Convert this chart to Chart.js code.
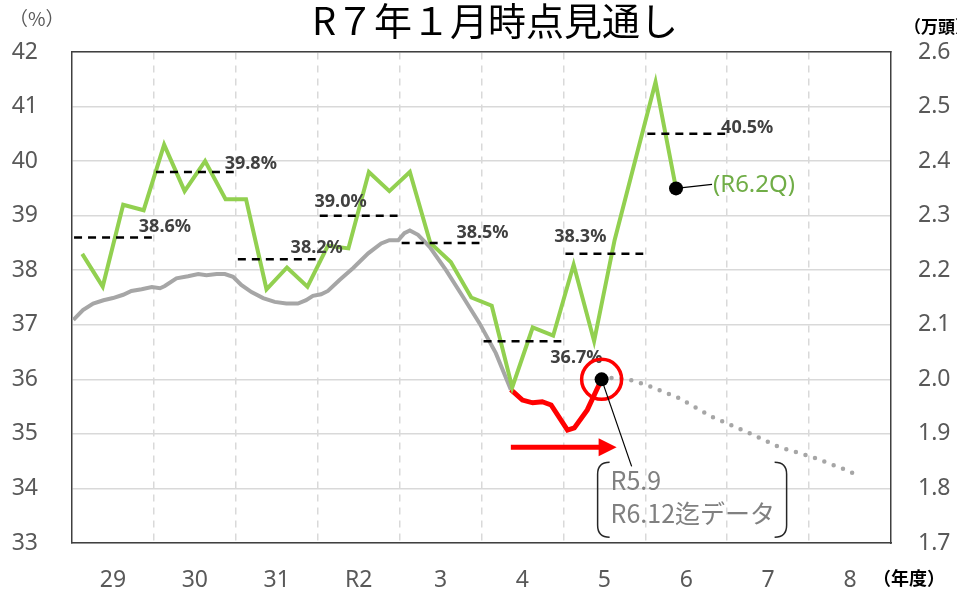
<!DOCTYPE html>
<html lang="ja">
<head>
<meta charset="utf-8">
<script src="https://cdn.jsdelivr.net/npm/chart.js@4.4.1/dist/chart.umd.min.js"></script>
<style>
  html, body { margin: 0; padding: 0; background: #fff; }
</style>
</head>
<body>
<canvas id="herdChart" width="957" height="592"></canvas>
<script>
const years = ['29', '30', '31', 'R2', '3', '4', '5', '6', '7', '8'];

// quarterly share (%), FY29 1Q .. FY6 2Q
const shareQ = [
  38.3, 37.7, 39.2, 39.1,
  40.3, 39.45, 40.0, 39.3,
  39.3, 37.65, 38.05, 37.7,
  38.45, 38.4, 39.8, 39.45,
  39.8, 38.5, 38.15, 37.5,
  37.35, 35.85, 36.95, 36.8,
  38.1, 36.7, 38.55, 40.0,
  41.45, 39.5
];
// fiscal-year averages (%)
const shareAvg = [38.6, 39.8, 38.2, 39.0, 38.5, 36.7, 38.3, 40.5];

// head count (万頭); months counted from the start of FY29
const headMonth = [0.2, 1.6, 3.1, 4.6, 6.0, 7.5, 8.7, 10.2, 11.7, 12.9, 13.6, 15.3, 17.0, 18.5,
  19.7, 21.2, 22.4, 23.6, 24.8, 26.3, 28.0, 29.7, 31.4, 33.1, 34.3, 35.3, 36.5, 37.5, 39.2,
  41.2, 43.4, 45.3, 46.5, 47.8, 48.7, 49.5, 50.7, 52.4, 54.8, 57.3, 59.7, 62.1, 64.3];
const headValue = [2.109, 2.127, 2.139, 2.145, 2.149, 2.155, 2.162, 2.165, 2.169, 2.167, 2.171,
  2.185, 2.189, 2.193, 2.191, 2.193, 2.193, 2.188, 2.173, 2.160, 2.149, 2.142, 2.139, 2.139,
  2.145, 2.153, 2.156, 2.162, 2.182, 2.204, 2.231, 2.249, 2.255, 2.255, 2.268, 2.273, 2.265,
  2.243, 2.200, 2.151, 2.103, 2.048, 1.981];

// R5.9 - R6.12 data
const recentMonth = [64.3, 66.0, 67.5, 68.9, 70.2, 72.6, 73.6, 75.5, 77.0, 77.6];
const recentValue = [1.981, 1.962, 1.957, 1.959, 1.953, 1.907, 1.911, 1.944, 1.984, 2.0];

// outlook
const outlookMonth = [77.6, 79.5, 82.0, 84.1, 88.9, 93.8, 98.8, 103.6, 108.4, 113.4, 115.6];
const outlookValue = [2.0, 2.003, 1.998, 1.99, 1.966, 1.931, 1.904, 1.876, 1.858, 1.834, 1.821];

const numFont = '"Noto Sans", "Noto Sans CJK JP", sans-serif';
const jpFont = '"Noto Sans CJK JP", sans-serif';

const pairs = (xs, ys) => xs.map((m, i) => ({ x: m, y: ys[i] }));

const greenPts = shareQ.map((v, i) => ({ x: 1.5 + 3 * i, y: v }));

// dashed yearly average segments, separated by gaps
const avgPts = [];
shareAvg.forEach((v, i) => {
  avgPts.push({ x: i * 12 + 0.3, y: v }, { x: i * 12 + 11.7, y: v }, { x: i * 12 + 11.8, y: null });
});

// label offsets from the year-end point of each average line
const avgLabelOffset = [[11, -11], [15, -8], [-1, -11], [-59, -14], [1, -10], [13, 17], [-65, -17], [20, -6]];

const lastDot = n => ctx => (ctx.dataIndex === n - 1 ? 7 : 0);

const decor = {
  id: 'decor',
  afterDatasetsDraw(chart) {
    const { ctx, scales: { x, y, y2 } } = chart;
    ctx.save();

    // average labels
    ctx.font = 'bold 18px ' + numFont;
    ctx.fillStyle = '#404040';
    ctx.textAlign = 'center';
    ctx.textBaseline = 'middle';
    shareAvg.forEach((v, i) => {
      const px = x.getPixelForValue(i * 12 + 12) + avgLabelOffset[i][0];
      const py = y.getPixelForValue(v) + avgLabelOffset[i][1];
      ctx.fillText(v.toFixed(1) + '%', px, py);
    });

    // latest quarter callout
    const gx = x.getPixelForValue(greenPts[greenPts.length - 1].x);
    const gy = y.getPixelForValue(greenPts[greenPts.length - 1].y);
    ctx.strokeStyle = '#000';
    ctx.lineWidth = 1.2;
    ctx.beginPath();
    ctx.moveTo(gx, gy);
    ctx.lineTo(gx + 36, gy - 4);
    ctx.stroke();
    ctx.font = '24px ' + numFont;
    ctx.fillStyle = '#70ad47';
    ctx.textAlign = 'left';
    ctx.fillText('(R6.2Q)', gx + 37, gy - 3);

    // circle round the latest head count
    const rx = x.getPixelForValue(recentMonth[recentMonth.length - 1]);
    const ry = y2.getPixelForValue(recentValue[recentValue.length - 1]);
    const sx = x.getPixelForValue(recentMonth[0]);
    ctx.strokeStyle = '#ff0000';
    ctx.lineWidth = 3.5;
    ctx.beginPath();
    ctx.arc(rx, ry, 20, 0, Math.PI * 2);
    ctx.stroke();

    // red arrow
    const ay = ry + 68;
    ctx.lineWidth = 5;
    ctx.beginPath();
    ctx.moveTo(sx, ay);
    ctx.lineTo(rx - 2, ay);
    ctx.stroke();
    ctx.fillStyle = '#ff0000';
    ctx.beginPath();
    ctx.moveTo(rx - 3, ay - 9);
    ctx.lineTo(rx + 15, ay);
    ctx.lineTo(rx - 3, ay + 9);
    ctx.closePath();
    ctx.fill();

    // leader and bracketed note
    ctx.strokeStyle = '#000';
    ctx.lineWidth = 1.2;
    ctx.beginPath();
    ctx.moveTo(rx, ry);
    ctx.lineTo(rx + 30, ry + 87);
    ctx.stroke();

    const bl = rx - 4, bt = ry + 83, br = bl + 189, bb = bt + 75;
    ctx.strokeStyle = '#262626';
    ctx.lineWidth = 1.5;
    ctx.beginPath();
    ctx.moveTo(bl + 12, bt);
    ctx.quadraticCurveTo(bl, bt, bl, bt + 12);
    ctx.lineTo(bl, bb - 12);
    ctx.quadraticCurveTo(bl, bb, bl + 12, bb);
    ctx.moveTo(br - 12, bt);
    ctx.quadraticCurveTo(br, bt, br, bt + 12);
    ctx.lineTo(br, bb - 12);
    ctx.quadraticCurveTo(br, bb, br - 12, bb);
    ctx.stroke();

    ctx.fillStyle = '#808080';
    ctx.font = '25px ' + jpFont;
    ctx.fillText('R5.9', bl + 13, bt + 18);
    ctx.fillText('R6.12迄データ', bl + 13, bt + 51);

    ctx.restore();
  },
  afterDraw(chart) {
    const { ctx } = chart;
    ctx.save();
    ctx.textBaseline = 'middle';

    ctx.fillStyle = '#000';
    ctx.textAlign = 'center';
    ctx.font = '38px ' + jpFont;
    ctx.fillText('R７年１月時点見通し', 495, 21);

    ctx.textAlign = 'left';
    ctx.fillStyle = '#595959';
    ctx.font = '19px ' + jpFont;
    ctx.fillText('（%）', 9, 19);

    ctx.fillStyle = '#000';
    ctx.font = 'bold 17px ' + jpFont;
    ctx.fillText('（万頭）', 904, 27);
    ctx.font = 'bold 18px ' + jpFont;
    ctx.fillText('（年度）', 873, 578);
    ctx.restore();
  }
};

new Chart(document.getElementById('herdChart'), {
  type: 'line',
  data: {
    datasets: [
      {
        data: avgPts,
        yAxisID: 'y',
        borderColor: '#000',
        borderWidth: 2.5,
        borderDash: [8, 6],
        pointRadius: 0,
        spanGaps: false
      },
      {
        data: greenPts,
        yAxisID: 'y',
        borderColor: '#92d050',
        borderWidth: 4,
        pointRadius: lastDot(greenPts.length),
        pointBackgroundColor: '#000',
        pointBorderWidth: 0
      },
      {
        data: pairs(recentMonth, recentValue),
        yAxisID: 'y2',
        borderColor: '#ff0000',
        borderWidth: 5,
        pointRadius: lastDot(recentMonth.length),
        pointBackgroundColor: '#000',
        pointBorderWidth: 0
      },
      {
        data: pairs(headMonth, headValue),
        yAxisID: 'y2',
        borderColor: '#a6a6a6',
        borderWidth: 4,
        pointRadius: 0
      },
      {
        data: pairs(outlookMonth, outlookValue),
        yAxisID: 'y2',
        borderColor: '#a6a6a6',
        borderWidth: 4.5,
        borderDash: [0, 10],
        borderCapStyle: 'round',
        pointRadius: 0
      }
    ]
  },
  options: {
    responsive: false,
    animation: false,
    devicePixelRatio: 1,
    layout: { padding: { top: 52, left: 0, right: 0, bottom: 0 } },
    plugins: { legend: { display: false }, tooltip: { enabled: false } },
    scales: {
      x: {
        type: 'linear',
        position: 'bottom',
        min: 0,
        max: 120,
        afterBuildTicks: s => { s.ticks = years.map((_, i) => ({ value: i * 12 + 6 })); },
        afterFit: s => { s.height = 49; },
        grid: { display: false },
        border: { color: '#404040', width: 1.5 },
        ticks: {
          autoSkip: false,
          maxRotation: 0,
          padding: 16,
          color: '#595959',
          font: { family: numFont, size: 23 },
          callback: v => years[Math.round((v - 6) / 12)]
        }
      },
      xGrid: {
        type: 'linear',
        position: 'top',
        min: 0,
        max: 120,
        afterBuildTicks: s => { s.ticks = years.slice(1).map((_, i) => ({ value: (i + 1) * 12 })); },
        afterFit: s => { s.height = 0; },
        grid: { color: '#d9d9d9', lineWidth: 1.5, drawTicks: false },
        border: { color: '#404040', width: 1.5, dash: [7, 6] },
        ticks: { display: false }
      },
      y: {
        position: 'left',
        min: 33,
        max: 42,
        afterFit: s => { s.width = 72; },
        grid: { color: '#d9d9d9', lineWidth: 1.5, drawTicks: false },
        border: { color: '#404040', width: 1.5 },
        ticks: {
          stepSize: 1,
          padding: 34,
          color: '#595959',
          font: { family: numFont, size: 23 }
        }
      },
      y2: {
        position: 'right',
        min: 1.7,
        max: 2.6,
        afterFit: s => { s.width = 66; },
        grid: { display: false, drawTicks: false },
        border: { color: '#404040', width: 1.5 },
        ticks: {
          stepSize: 0.1,
          padding: 27,
          color: '#595959',
          font: { family: numFont, size: 23 },
          callback: v => v.toFixed(1)
        }
      }
    }
  },
  plugins: [decor]
});
</script>
</body>
</html>
